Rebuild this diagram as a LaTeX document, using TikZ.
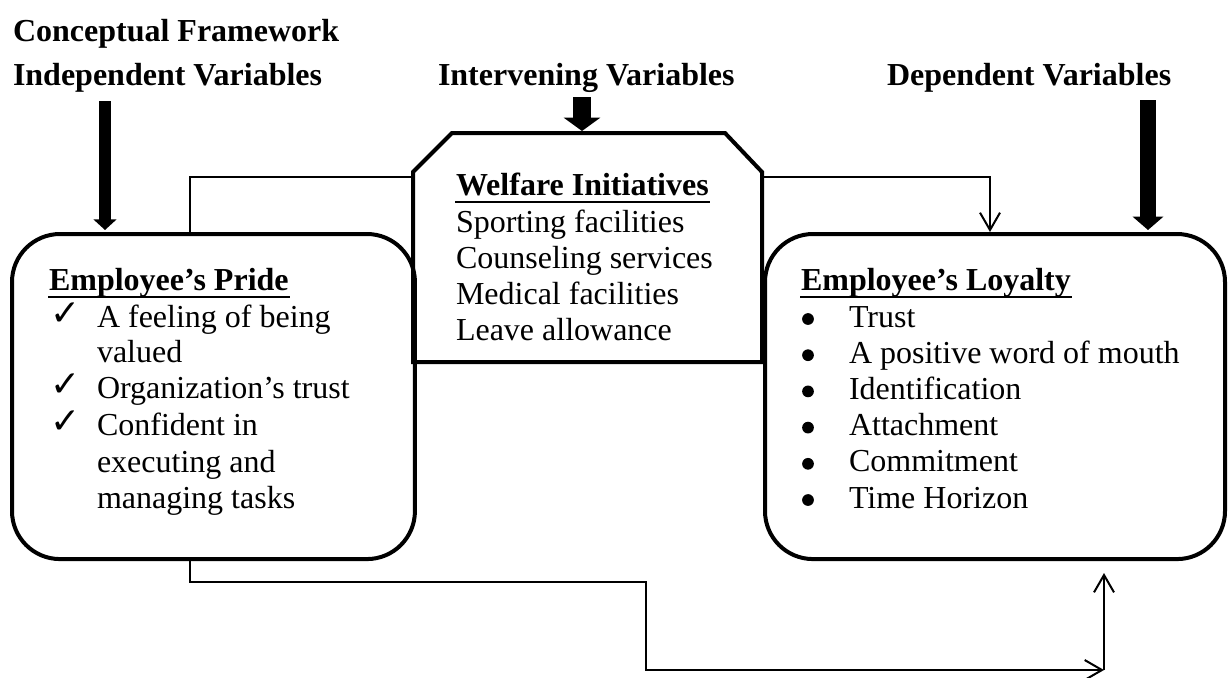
\documentclass[tikz,border=0pt]{standalone}
\usepackage{fontspec}
\setmainfont{Liberation Serif}
\newfontfamily\symfont{DejaVu Sans}
\usetikzlibrary{arrows.meta}

\tikzset{every picture/.style={line width=0.75pt}}

\begin{document}
\begin{tikzpicture}[x=0.375pt,y=0.375pt,yscale=-1,xscale=1,
  boxline/.style={line width=1.5pt},
  roundbox/.style={draw,boxline,rounded corners=18pt,inner sep=0pt,anchor=north west},
  thinline/.style={line width=0.75pt},
  thinarrow/.style={thinline,-{Straight Barb[width=7.5pt,length=6.5pt]}},
  bigarrow/.style={line width=4.2pt,-{Triangle[width=8.5pt,length=4pt]}},
  txt/.style={anchor=base west,inner sep=0pt,font=\fontsize{12}{13.7}\selectfont},
  headtxt/.style={txt,font=\fontsize{12}{13.7}\selectfont\bfseries},
  checktxt/.style={txt,font=\fontsize{13.5}{13.7}\selectfont\symfont},
  dotmark/.style={circle,fill,inner sep=0pt,minimum size=4.4pt},
  ulline/.style={line width=0.8pt}]
\useasboundingbox (0,0) rectangle (1228,677);

% Boxes
\node[roundbox,minimum width=151.1pt,minimum height=121.9pt] (pride) at (10,232) {};
\node[roundbox,minimum width=172.5pt,minimum height=121.9pt] (loyalty) at (763,232) {};
% Welfare frame (corners cut at the top)
\draw[boxline] (413,362) -- (413,172) -- (452,133) -- (725,133) -- (762,172) -- (762,362) -- cycle;

% Connector ends
\coordinate (prideTop) at (190,232);
\coordinate (welfareL) at (413,177);
\coordinate (welfareR) at (762,177);
\coordinate (loyaltyTop) at (990,232);
\coordinate (prideBot) at (190,557);
\coordinate (bend) at (646,582);
\coordinate (corner) at (1104,670);
\coordinate (loyaltyBot) at (1104,573);

%Straight Lines
\draw[thinline] (prideTop) |- (welfareL);
\draw[thinarrow] (welfareR) -| (loyaltyTop);
\draw[thinarrow] (prideBot) |- (bend) |- (corner);
\draw[thinarrow] (corner) -- (loyaltyBot);

% Variable arrows
\draw[bigarrow] (105,101) -- (105,230);
\draw[bigarrow,line width=6.4pt,-{Triangle[width=13.5pt,length=5pt]}] (582,97) -- (582,131);
\draw[bigarrow,line width=6pt,-{Triangle[width=11.25pt,length=5pt]}] (1148,100) -- (1148,230);

% Text Node
\node[headtxt] (title) at (12,41) {Conceptual Framework};
\node[headtxt] (indep) at (12,85) {Independent Variables};
\node[headtxt] (interv) at (437,85) {Intervening Variables};
\node[headtxt] (dep) at (886,85) {Dependent Variables};

% Welfare text
\node[headtxt] (welfareHead) at (455,195) {Welfare Initiatives};
\draw[ulline] ([yshift=2.5pt]welfareHead.base west) -- ([yshift=2.5pt]welfareHead.base east);
\foreach \lbl [count=\i] in {Sporting facilities, Counseling services, Medical facilities, Leave allowance}
  \node[txt] (welfare\i) at (455,{232+36*(\i-1)}) {\lbl};

% Pride text
\node[headtxt] (prideHead) at (48,290) {Employee’s Pride};
\draw[ulline] ([yshift=2.5pt]prideHead.base west) -- ([yshift=2.5pt]prideHead.base east);
\node[checktxt] (check1) at (49,325) {✓};
\node[checktxt] (check2) at (49,396) {✓};
\node[checktxt] (check3) at (49,433) {✓};
\node[txt] (pride1) at (96,327) {A feeling of being};
\node[txt] (pride2) at (96,362) {valued};
\node[txt] (pride3) at (96,398) {Organization’s trust};
\node[txt] (pride4) at (96,435) {Confident in};
\node[txt] (pride5) at (96,472) {executing and};
\node[txt] (pride6) at (96,508) {managing tasks};

% Loyalty text
\node[headtxt] (loyaltyHead) at (800,290) {Employee’s Loyalty};
\draw[ulline] ([yshift=2.5pt]loyaltyHead.base west) -- ([yshift=2.5pt]loyaltyHead.base east);
\foreach \lbl [count=\i] in {Trust, A positive word of mouth, Identification, Attachment, Commitment, Time Horizon}{
  \node[dotmark] (dot\i) at (808,{319+36.2*(\i-1)}) {};
  \node[txt] (loyalty\i) at (848,{327+36.2*(\i-1)}) {\lbl};
}

\end{tikzpicture}
\end{document}
